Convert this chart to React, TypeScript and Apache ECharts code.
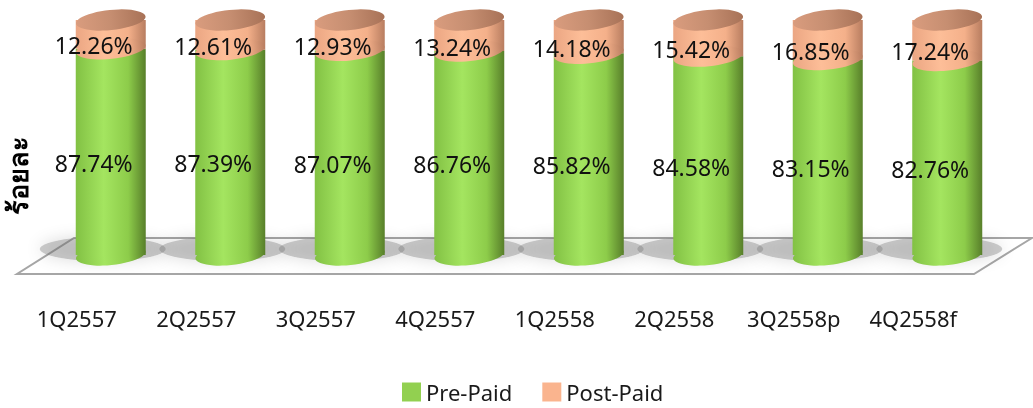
import React, { useEffect, useRef } from "react";
import * as echarts from "echarts";

const categories = ["1Q2557", "2Q2557", "3Q2557", "4Q2557", "1Q2558", "2Q2558", "3Q2558p", "4Q2558f"];
const prePaid = [87.74, 87.39, 87.07, 86.76, 85.82, 84.58, 83.15, 82.76];
const postPaid = [12.26, 12.61, 12.93, 13.24, 14.18, 15.42, 16.85, 17.24];
const totals = prePaid.map((v, i) => v + postPaid[i]);

const FONT = "'Noto Sans', 'DejaVu Sans', sans-serif";

export default function App() {
  const ref = useRef<HTMLDivElement>(null);
  useEffect(() => {
    document.body.style.margin = "0";
    const chart = echarts.init(ref.current!, null, { renderer: "svg" });
    const G = echarts.graphic.LinearGradient;
    const green = () =>
      new G(0, 0, 1, 0, [
        { offset: 0, color: "#82C144" },
        { offset: 0.4, color: "#A4E560" },
        { offset: 0.75, color: "#8DCC4A" },
        { offset: 1, color: "#587F2A" },
      ]);
    const peach = () =>
      new G(0, 0, 1, 0, [
        { offset: 0, color: "#EBA683" },
        { offset: 0.4, color: "#FDBE98" },
        { offset: 0.75, color: "#F4B08A" },
        { offset: 1, color: "#B87D60" },
      ]);
    const topCap = () =>
      new G(0, 0, 1, 0, [
        { offset: 0, color: "#D99C7E" },
        { offset: 0.5, color: "#C68E71" },
        { offset: 1, color: "#A87257" },
      ]);
    const BW = 70;
    const EH = 20;
    const fmt = (p: any) => p.value.toFixed(2) + "%";
    const option: any = {
      animation: false,
      graphic: [
        {
          type: "polygon",
          z: 0,
          shape: { points: [[17, 274], [974, 274], [1032, 238], [74, 238]] },
          style: { fill: "#FFFFFF", stroke: "#A6A6A6", lineWidth: 2 },
        },
      ],
      grid: { left: 51, right: 26, top: 20, bottom: 153, outerBoundsMode: "none", containLabel: false },
      legend: {
        bottom: 0,
        left: 397,
        icon: "rect",
        itemWidth: 19,
        itemHeight: 19,
        itemGap: 30,
        textStyle: { fontFamily: FONT, fontSize: 22, color: "#1A1A1A" },
        data: [
          { name: "Pre-Paid", itemStyle: { color: "#92D050" } },
          { name: "Post-Paid", itemStyle: { color: "#FAB48E" } },
        ],
      },
      xAxis: {
        type: "category",
        data: categories,
        axisLine: { show: false },
        axisTick: { show: false },
        axisLabel: {
          interval: 0,
          margin: 52,
          fontFamily: FONT,
          fontSize: 22,
          color: "#1A1A1A",
          padding: [0, 68, 0, 0],
        },
      },
      yAxis: {
        type: "value",
        min: 0,
        max: 100,
        name: "ร้อยละ",
        nameLocation: "middle",
        nameRotate: 90,
        nameGap: 20,
        nameTextStyle: {
          fontFamily: FONT,
          fontSize: 27,
          fontWeight: "bold",
          color: "#000",
          padding: [0, 76, 0, 0],
        },
        axisLine: { show: false },
        axisTick: { show: false },
        axisLabel: { show: false },
        splitLine: { show: false },
      },
      series: [
        {
          name: "shadow",
          type: "pictorialBar",
          symbol: "circle",
          symbolSize: [BW + 56, 24],
          symbolPosition: "start",
          symbolOffset: [-8, "25%"],
          barWidth: BW,
          barGap: "-100%",
          z: 1,
          itemStyle: { color: "rgba(110,110,110,0.35)", shadowBlur: 16, shadowColor: "rgba(0,0,0,0.4)" },
          data: prePaid,
        },
        {
          name: "Pre-Paid",
          type: "bar",
          stack: "a",
          barWidth: BW,
          z: 2,
          itemStyle: { color: green() },
          data: prePaid,
        },
        {
          name: "Post-Paid",
          type: "bar",
          stack: "a",
          barWidth: BW,
          z: 2,
          itemStyle: { color: peach() },
          data: postPaid,
        },
        {
          name: "bottomCap",
          type: "pictorialBar",
          symbol: "circle",
          symbolSize: [BW, EH],
          symbolPosition: "start",
          symbolOffset: [0, "50%"],
          symbolRotate: 6,
          barWidth: BW,
          barGap: "-100%",
          z: 1.5,
          itemStyle: { color: green() },
          data: prePaid,
        },
        {
          name: "midCap",
          type: "pictorialBar",
          symbol: "circle",
          symbolSize: [BW, EH],
          symbolPosition: "end",
          symbolOffset: [0, "-50%"],
          symbolRotate: 6,
          barWidth: BW,
          barGap: "-100%",
          z: 3,
          itemStyle: { color: peach() },
          data: prePaid,
        },
        {
          name: "topCap",
          type: "pictorialBar",
          symbol: "circle",
          symbolSize: [BW, EH],
          symbolPosition: "end",
          symbolOffset: [0, "-50%"],
          symbolRotate: 6,
          barWidth: BW,
          barGap: "-100%",
          z: 4,
          itemStyle: { color: topCap() },
          data: totals,
        },
        {
          name: "lblPre",
          type: "bar",
          stack: "lbl",
          barWidth: BW,
          barGap: "-100%",
          z: 10,
          itemStyle: { color: "transparent" },
          label: {
            show: true,
            position: "inside",
            offset: [-17, 11],
            formatter: fmt,
            fontFamily: FONT,
            fontSize: 23,
            color: "#111",
          },
          data: prePaid,
        },
        {
          name: "lblPost",
          type: "bar",
          stack: "lbl",
          barWidth: BW,
          z: 10,
          itemStyle: { color: "transparent" },
          label: {
            show: true,
            position: "inside",
            offset: [-17, 11],
            formatter: fmt,
            fontFamily: FONT,
            fontSize: 23,
            color: "#111",
          },
          data: postPaid,
        },
      ],
    };
    chart.setOption(option);
    return () => chart.dispose();
  }, []);
  return <div ref={ref} style={{ position: "fixed", left: 0, top: 0, width: 1033, height: 408 }} />;
}
